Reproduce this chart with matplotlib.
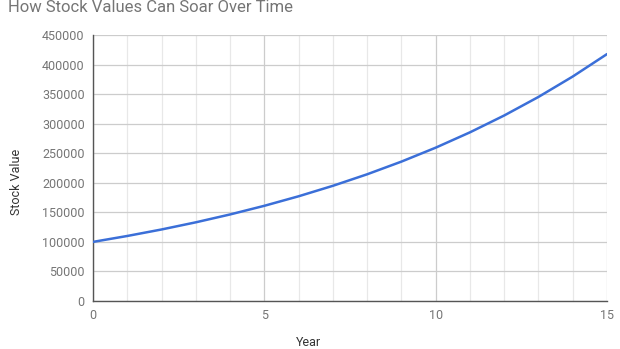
import matplotlib
matplotlib.use("Agg")
import matplotlib.pyplot as plt
from matplotlib.ticker import MultipleLocator

years = list(range(16))
values = [100000, 110000, 121000, 133100, 146410, 161051, 177156, 194872,
          214359, 235795, 259374, 285312, 313843, 345227, 379750, 417725]
y_ticks = [0, 50000, 100000, 150000, 200000, 250000, 300000, 350000, 400000, 450000]
x_ticks = [0, 5, 10, 15]

plt.rcParams['font.family'] = ['Roboto', 'DejaVu Sans']
fig = plt.figure(figsize=(6.2, 3.49), dpi=100)
ax = fig.add_axes([93/620, 48/349, (607-93)/620, (301-35)/349])

ax.plot(years, values, color='#3b6fd8', lw=1.8, zorder=3, solid_capstyle='round')
ax.set_xlim(0, 15)
ax.set_ylim(0, 450000)
ax.set_xticks(x_ticks)
ax.set_xticklabels([str(t) for t in x_ticks])
ax.xaxis.set_minor_locator(MultipleLocator(1))
ax.set_yticks(y_ticks)
ax.set_yticklabels([str(t) for t in y_ticks])

ax.grid(True, which='major', axis='y', color='#cccccc', lw=0.9)
ax.grid(True, which='major', axis='x', color='#cccccc', lw=0.9)
ax.grid(True, which='minor', axis='x', color='#e8e8e8', lw=0.9)
ax.set_axisbelow(True)

for s in ['top', 'right']:
    ax.spines[s].set_visible(False)
for s in ['left', 'bottom']:
    ax.spines[s].set_color('#555555')
    ax.spines[s].set_linewidth(1.0)

ax.tick_params(axis='both', which='both', length=0, labelsize=9, colors='#757575')
ax.tick_params(axis='x', pad=6)
ax.tick_params(axis='y', pad=6)

fig.text(8/620, 1 - 7/349, 'How Stock Values Can Soar Over Time', fontsize=12,
         color='#757575', ha='left', va='center')
fig.text(16/620, 1 - 182/349, 'Stock Value', rotation=90, fontsize=9,
         color='#333333', ha='center', va='center')
fig.text(308/620, 1 - 342/349, 'Year', fontsize=9, color='#333333',
         ha='center', va='center')

fig.savefig('out.png', dpi=100)
